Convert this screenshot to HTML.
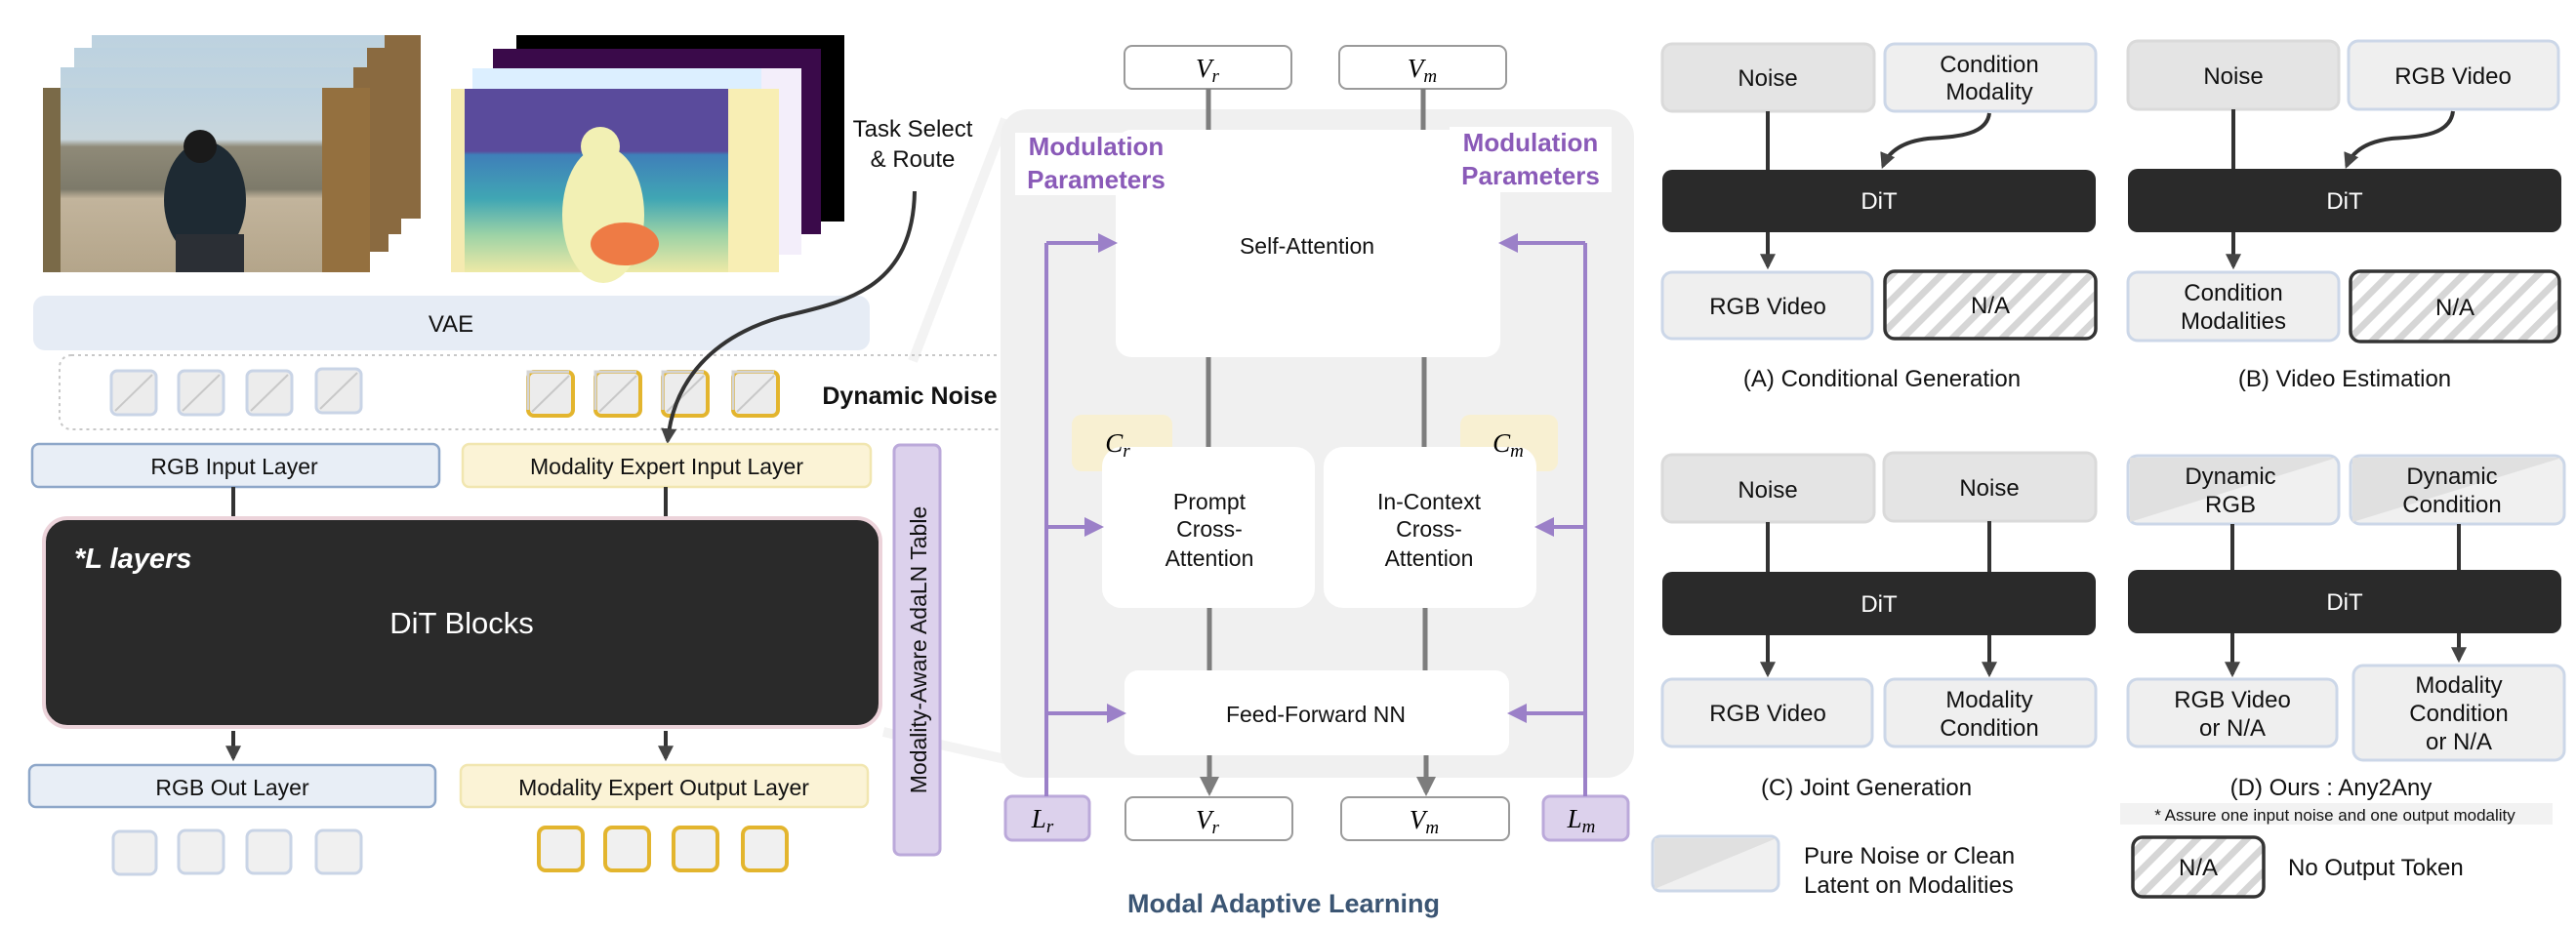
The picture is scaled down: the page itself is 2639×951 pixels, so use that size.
<!DOCTYPE html>
<html><head><meta charset="utf-8"><style>
html,body{margin:0;padding:0;background:#fff;}
svg{display:block;font-family:"Liberation Sans",sans-serif;}
</style></head><body>
<svg width="2639" height="951" viewBox="0 0 2639 951" xmlns="http://www.w3.org/2000/svg">
<defs>
<pattern id="hatch" patternUnits="userSpaceOnUse" width="18" height="18" patternTransform="rotate(45)">
<rect width="18" height="18" fill="#fff"/><rect width="7" height="18" fill="#d6d6d6"/>
</pattern>
<marker id="ah" viewBox="0 0 10 10" refX="8" refY="5" markerWidth="4" markerHeight="4" orient="auto"><path d="M0,0 L10,5 L0,10 z" fill="#444"/></marker>
<marker id="ag" viewBox="0 0 10 10" refX="8" refY="5" markerWidth="4" markerHeight="4" orient="auto"><path d="M0,0 L10,5 L0,10 z" fill="#7d7d7d"/></marker>
<marker id="ap" viewBox="0 0 10 10" refX="8" refY="5" markerWidth="5" markerHeight="5" orient="auto"><path d="M0,0 L10,5 L0,10 z" fill="#9b80c8"/></marker>
<linearGradient id="photo" x1="0" y1="0" x2="0" y2="1">
<stop offset="0" stop-color="#bcd2e0"/><stop offset="0.28" stop-color="#c9d6dc"/><stop offset="0.32" stop-color="#8f8a78"/><stop offset="0.55" stop-color="#7d7a6a"/><stop offset="0.6" stop-color="#c2b49c"/><stop offset="1" stop-color="#b4a58a"/>
</linearGradient>
<linearGradient id="depth" x1="0" y1="0" x2="0" y2="1">
<stop offset="0" stop-color="#5a4b9c"/><stop offset="0.34" stop-color="#5a4b9c"/><stop offset="0.36" stop-color="#3f7fb9"/><stop offset="0.6" stop-color="#40a6b4"/><stop offset="0.8" stop-color="#9ed3a6"/><stop offset="1" stop-color="#eee9a6"/>
</linearGradient>
</defs>

<line x1="935" y1="370" x2="1030" y2="122" stroke="#f3f3f3" stroke-width="10"/>
<line x1="905" y1="750" x2="1030" y2="778" stroke="#f3f3f3" stroke-width="10"/>

<rect x="94" y="36" width="337" height="188" fill="#8a6a40"/>
<rect x="94" y="36" width="300" height="188" fill="url(#photo)"/>
<rect x="76" y="49" width="335" height="191" fill="#8a6a40"/>
<rect x="76" y="49" width="300" height="191" fill="url(#photo)"/>
<rect x="62" y="69" width="336" height="189" fill="#8a6a40"/>
<rect x="62" y="69" width="300" height="189" fill="url(#photo)"/>
<rect x="44" y="90" width="335" height="189" fill="url(#photo)"/>
<rect x="330" y="90" width="49" height="189" fill="#94703f"/>
<rect x="44" y="90" width="18" height="189" fill="#7a6a48"/>
<ellipse cx="210" cy="205" rx="42" ry="60" fill="#1e2a33"/>
<circle cx="205" cy="150" r="17" fill="#1a1a1a"/>
<rect x="180" y="240" width="70" height="39" fill="#2b2f35"/>

<rect x="529" y="36" width="336" height="191" fill="#000"/>
<rect x="505" y="50" width="336" height="190" fill="#3a0a4a"/>
<rect x="484" y="70" width="337" height="191" fill="#dcefff"/>
<rect x="780" y="70" width="41" height="191" fill="#f3eefa"/>
<rect x="462" y="91" width="336" height="188" fill="url(#depth)"/>
<rect x="462" y="91" width="14" height="188" fill="#f5eab0"/>
<rect x="746" y="91" width="52" height="188" fill="#f8eeb4"/>
<ellipse cx="618" cy="220" rx="42" ry="70" fill="#f2f0b4"/>
<circle cx="615" cy="150" r="20" fill="#f2f0b4"/>
<ellipse cx="640" cy="250" rx="35" ry="22" fill="#ee7b45"/>

<text x="935" y="140" font-size="24" text-anchor="middle" fill="#111">Task Select</text>
<text x="935" y="171" font-size="24" text-anchor="middle" fill="#111">&amp; Route</text>

<rect x="34" y="303" width="857" height="56" rx="12" fill="#e6ecf5"/>
<text x="462" y="340" font-size="24" text-anchor="middle" fill="#111">VAE</text>

<rect x="61" y="364" width="986" height="76" rx="12" fill="none" stroke="#c8c8c8" stroke-width="2" stroke-dasharray="3,4"/>
<g stroke="#c9d4e6" stroke-width="3" fill="#ececec">
<rect x="114" y="380" width="46" height="45" rx="6"/><rect x="183" y="380" width="46" height="45" rx="6"/><rect x="253" y="380" width="46" height="45" rx="6"/><rect x="324" y="378" width="46" height="45" rx="6"/>
</g>
<g stroke="#c8c8c8" stroke-width="2"><line x1="118" y1="421" x2="156" y2="384"/><line x1="187" y1="421" x2="225" y2="384"/><line x1="257" y1="421" x2="295" y2="384"/><line x1="328" y1="419" x2="366" y2="382"/></g>
<g stroke="#e3b52e" stroke-width="4" fill="#ececec">
<rect x="541" y="381" width="46" height="45" rx="6"/><rect x="610" y="381" width="46" height="45" rx="6"/><rect x="679" y="381" width="46" height="45" rx="6"/><rect x="751" y="381" width="46" height="45" rx="6"/>
</g>
<g stroke="#d4d4d4" stroke-width="3" fill="none"><path d="M541,420 V381 H583"/><path d="M610,420 V381 H652"/><path d="M679,420 V381 H721"/><path d="M751,420 V381 H793"/></g>
<g stroke="#c8c8c8" stroke-width="2"><line x1="545" y1="422" x2="583" y2="385"/><line x1="614" y1="422" x2="652" y2="385"/><line x1="683" y1="422" x2="721" y2="385"/><line x1="755" y1="422" x2="793" y2="385"/></g>
<text x="932" y="414" font-size="25" font-weight="bold" text-anchor="middle" fill="#111">Dynamic Noise</text>

<path d="M937,196 C935,300 860,310 800,325 C730,345 690,390 684,452" fill="none" stroke="#333" stroke-width="4" marker-end="url(#ah)"/>

<rect x="33" y="455" width="417" height="44" rx="7" fill="#e8eef6" stroke="#8ea7c9" stroke-width="2.5"/>
<text x="240" y="486" font-size="23" text-anchor="middle" fill="#111">RGB Input Layer</text>
<rect x="474" y="455" width="418" height="44" rx="7" fill="#fbf3d6" stroke="#f1e6b0" stroke-width="2.5"/>
<text x="683" y="486" font-size="23" text-anchor="middle" fill="#111">Modality Expert Input Layer</text>
<line x1="239" y1="499" x2="239" y2="531" stroke="#333" stroke-width="4"/>
<line x1="682" y1="499" x2="682" y2="531" stroke="#333" stroke-width="4"/>

<rect x="45" y="531" width="857" height="214" rx="24" fill="#2a2a2a" stroke="#ecd3da" stroke-width="4"/>
<text x="76" y="582" font-size="29" font-weight="bold" font-style="italic" fill="#fff">*L layers</text>
<text x="473" y="649" font-size="31" text-anchor="middle" fill="#fff">DiT Blocks</text>
<line x1="239" y1="749" x2="239" y2="777" stroke="#333" stroke-width="4" marker-end="url(#ah)"/>
<line x1="682" y1="749" x2="682" y2="777" stroke="#333" stroke-width="4" marker-end="url(#ah)"/>

<rect x="30" y="784" width="416" height="43" rx="7" fill="#e8eef6" stroke="#8ea7c9" stroke-width="2.5"/>
<text x="238" y="815" font-size="23" text-anchor="middle" fill="#111">RGB Out Layer</text>
<rect x="472" y="784" width="417" height="43" rx="7" fill="#fbf3d6" stroke="#f1e6b0" stroke-width="2.5"/>
<text x="680" y="815" font-size="23" text-anchor="middle" fill="#111">Modality Expert Output Layer</text>

<g stroke="#c9d4e6" stroke-width="3" fill="#f0f0f0">
<rect x="116" y="852" width="44" height="44" rx="7"/><rect x="183" y="851" width="46" height="44" rx="7"/><rect x="253" y="851" width="45" height="44" rx="7"/><rect x="324" y="851" width="46" height="44" rx="7"/>
</g>
<g stroke="#e3b52e" stroke-width="4" fill="#f0f0f0">
<rect x="552" y="848" width="45" height="44" rx="7"/><rect x="620" y="848" width="45" height="44" rx="7"/><rect x="690" y="848" width="45" height="44" rx="7"/><rect x="761" y="848" width="45" height="44" rx="7"/>
</g>

<rect x="916" y="456" width="47" height="420" rx="6" fill="#dcd1ec" stroke="#bba9da" stroke-width="3"/>
<text transform="translate(949,666) rotate(-90)" font-size="23" text-anchor="middle" fill="#111">Modality-Aware AdaLN Table</text>

<rect x="1025" y="112" width="649" height="685" rx="28" fill="#f0f0f0"/>
<rect x="1152" y="47" width="171" height="44" rx="8" fill="#fff" stroke="#9a9a9a" stroke-width="2"/>
<text x="1237" y="79" font-family="Liberation Serif,serif" font-style="italic" font-size="27" text-anchor="middle">V<tspan font-size="19" dy="5">r</tspan></text>
<rect x="1372" y="47" width="171" height="44" rx="8" fill="#fff" stroke="#9a9a9a" stroke-width="2"/>
<text x="1457" y="79" font-family="Liberation Serif,serif" font-style="italic" font-size="27" text-anchor="middle">V<tspan font-size="19" dy="5">m</tspan></text>
<g stroke="#7d7d7d" stroke-width="5">
<line x1="1238" y1="91" x2="1238" y2="133"/><line x1="1458" y1="91" x2="1458" y2="133"/>
<line x1="1238" y1="366" x2="1238" y2="458"/><line x1="1459" y1="366" x2="1459" y2="458"/>
<line x1="1239" y1="623" x2="1239" y2="687"/><line x1="1460" y1="623" x2="1460" y2="687"/>
</g>
<line x1="1239" y1="774" x2="1239" y2="812" stroke="#7d7d7d" stroke-width="5" marker-end="url(#ag)"/>
<line x1="1461" y1="774" x2="1461" y2="812" stroke="#7d7d7d" stroke-width="5" marker-end="url(#ag)"/>

<rect x="1143" y="133" width="394" height="233" rx="16" fill="#fff"/>
<text x="1339" y="260" font-size="23" text-anchor="middle" fill="#111">Self-Attention</text>
<rect x="1040" y="136" width="166" height="64" fill="#fff"/>
<text x="1123" y="159" font-size="26" font-weight="bold" text-anchor="middle" fill="#8a5ab8">Modulation</text>
<text x="1123" y="193" font-size="26" font-weight="bold" text-anchor="middle" fill="#8a5ab8">Parameters</text>
<rect x="1485" y="130" width="166" height="67" fill="#fff"/>
<text x="1568" y="155" font-size="26" font-weight="bold" text-anchor="middle" fill="#8a5ab8">Modulation</text>
<text x="1568" y="189" font-size="26" font-weight="bold" text-anchor="middle" fill="#8a5ab8">Parameters</text>

<rect x="1098" y="425" width="103" height="58" rx="10" fill="#f8f0d2"/>
<rect x="1496" y="425" width="100" height="58" rx="10" fill="#f8f0d2"/>
<rect x="1129" y="458" width="218" height="165" rx="20" fill="#fff"/>
<rect x="1356" y="458" width="218" height="165" rx="20" fill="#fff"/>
<text x="1145" y="463" font-family="Liberation Serif,serif" font-style="italic" font-size="27" text-anchor="middle">C<tspan font-size="19" dy="5">r</tspan></text>
<text x="1545" y="463" font-family="Liberation Serif,serif" font-style="italic" font-size="27" text-anchor="middle">C<tspan font-size="19" dy="5">m</tspan></text>
<g font-size="23" text-anchor="middle" fill="#111">
<text x="1239" y="522">Prompt</text><text x="1239" y="550">Cross-</text><text x="1239" y="580">Attention</text>
<text x="1464" y="522">In-Context</text><text x="1464" y="550">Cross-</text><text x="1464" y="580">Attention</text>
</g>
<rect x="1152" y="687" width="394" height="87" rx="14" fill="#fff"/>
<text x="1348" y="740" font-size="23" text-anchor="middle" fill="#111">Feed-Forward NN</text>

<rect x="1153" y="817" width="171" height="44" rx="8" fill="#fff" stroke="#9a9a9a" stroke-width="2"/>
<text x="1237" y="849" font-family="Liberation Serif,serif" font-style="italic" font-size="27" text-anchor="middle">V<tspan font-size="19" dy="5">r</tspan></text>
<rect x="1374" y="817" width="172" height="44" rx="8" fill="#fff" stroke="#9a9a9a" stroke-width="2"/>
<text x="1459" y="849" font-family="Liberation Serif,serif" font-style="italic" font-size="27" text-anchor="middle">V<tspan font-size="19" dy="5">m</tspan></text>

<rect x="1030" y="816" width="86" height="45" rx="7" fill="#dcd1ec" stroke="#bba9da" stroke-width="3"/>
<text x="1068" y="848" font-family="Liberation Serif,serif" font-style="italic" font-size="27" text-anchor="middle">L<tspan font-size="19" dy="5">r</tspan></text>
<rect x="1581" y="816" width="87" height="45" rx="7" fill="#dcd1ec" stroke="#bba9da" stroke-width="3"/>
<text x="1620" y="848" font-family="Liberation Serif,serif" font-style="italic" font-size="27" text-anchor="middle">L<tspan font-size="19" dy="5">m</tspan></text>

<g stroke="#9b80c8" stroke-width="4" fill="none">
<path d="M1072,816 V249"/><path d="M1624,816 V249"/>
<line x1="1072" y1="249" x2="1141" y2="249" marker-end="url(#ap)"/>
<line x1="1072" y1="540" x2="1127" y2="540" marker-end="url(#ap)"/>
<line x1="1072" y1="731" x2="1150" y2="731" marker-end="url(#ap)"/>
<line x1="1624" y1="249" x2="1539" y2="249" marker-end="url(#ap)"/>
<line x1="1624" y1="540" x2="1576" y2="540" marker-end="url(#ap)"/>
<line x1="1624" y1="731" x2="1548" y2="731" marker-end="url(#ap)"/>
</g>
<text x="1315" y="935" font-size="27" font-weight="bold" text-anchor="middle" fill="#3b5573">Modal Adaptive Learning</text>

<g font-size="24" text-anchor="middle" fill="#111">
<rect x="1703" y="45" width="217" height="69" rx="10" fill="#e4e4e4" stroke="#dadada" stroke-width="3"/>
<text x="1811" y="88">Noise</text>
<rect x="1931" y="45" width="216" height="69" rx="10" fill="#efefef" stroke="#ccd7e8" stroke-width="3"/>
<text x="2038" y="74">Condition</text><text x="2038" y="102">Modality</text>
<line x1="1811" y1="114" x2="1811" y2="174" stroke="#333" stroke-width="4"/>
<path d="M2038,116 C2035,140 2000,140 1975,142 C1950,145 1935,155 1929,170" fill="none" stroke="#333" stroke-width="4" marker-end="url(#ah)"/>
<rect x="1703" y="174" width="444" height="64" rx="10" fill="#2a2a2a"/>
<text x="1925" y="214" fill="#fff">DiT</text>
<line x1="1811" y1="238" x2="1811" y2="273" stroke="#333" stroke-width="4" marker-end="url(#ah)"/>
<rect x="1703" y="279" width="215" height="68" rx="10" fill="#efefef" stroke="#ccd7e8" stroke-width="3"/>
<text x="1811" y="322">RGB Video</text>
<rect x="1931" y="278" width="216" height="69" rx="10" fill="url(#hatch)" stroke="#333" stroke-width="3.5"/>
<text x="2039" y="321">N/A</text>
<text x="1928" y="396">(A) Conditional Generation</text>

<rect x="2180" y="42" width="216" height="70" rx="10" fill="#e4e4e4" stroke="#dadada" stroke-width="3"/>
<text x="2288" y="86">Noise</text>
<rect x="2406" y="42" width="215" height="70" rx="10" fill="#efefef" stroke="#ccd7e8" stroke-width="3"/>
<text x="2513" y="86">RGB Video</text>
<line x1="2288" y1="112" x2="2288" y2="173" stroke="#333" stroke-width="4"/>
<path d="M2513,114 C2510,140 2475,140 2450,142 C2425,145 2410,155 2404,170" fill="none" stroke="#333" stroke-width="4" marker-end="url(#ah)"/>
<rect x="2180" y="173" width="444" height="65" rx="10" fill="#2a2a2a"/>
<text x="2402" y="214" fill="#fff">DiT</text>
<line x1="2288" y1="238" x2="2288" y2="273" stroke="#333" stroke-width="4" marker-end="url(#ah)"/>
<rect x="2180" y="279" width="216" height="70" rx="10" fill="#efefef" stroke="#ccd7e8" stroke-width="3"/>
<text x="2288" y="308">Condition</text><text x="2288" y="337">Modalities</text>
<rect x="2408" y="278" width="214" height="72" rx="10" fill="url(#hatch)" stroke="#333" stroke-width="3.5"/>
<text x="2515" y="323">N/A</text>
<text x="2402" y="396">(B) Video Estimation</text>

<rect x="1703" y="466" width="217" height="69" rx="10" fill="#e4e4e4" stroke="#dadada" stroke-width="3"/>
<text x="1811" y="510">Noise</text>
<rect x="1930" y="464" width="217" height="70" rx="10" fill="#e4e4e4" stroke="#dadada" stroke-width="3"/>
<text x="2038" y="508">Noise</text>
<line x1="1811" y1="535" x2="1811" y2="586" stroke="#333" stroke-width="4"/>
<line x1="2038" y1="534" x2="2038" y2="586" stroke="#333" stroke-width="4"/>
<rect x="1703" y="586" width="444" height="65" rx="10" fill="#2a2a2a"/>
<text x="1925" y="627" fill="#fff">DiT</text>
<line x1="1811" y1="651" x2="1811" y2="691" stroke="#333" stroke-width="4" marker-end="url(#ah)"/>
<line x1="2038" y1="651" x2="2038" y2="691" stroke="#333" stroke-width="4" marker-end="url(#ah)"/>
<rect x="1703" y="696" width="215" height="69" rx="10" fill="#efefef" stroke="#ccd7e8" stroke-width="3"/>
<text x="1811" y="739">RGB Video</text>
<rect x="1931" y="696" width="216" height="69" rx="10" fill="#efefef" stroke="#ccd7e8" stroke-width="3"/>
<text x="2038" y="725">Modality</text><text x="2038" y="754">Condition</text>
<text x="1912" y="815">(C) Joint Generation</text>

<rect x="2180" y="467" width="216" height="70" rx="10" fill="#f0f0f0" stroke="#ccd7e8" stroke-width="3"/>
<polygon points="2182,535 2394,469 2182,469" fill="#e0e0e0"/>
<text x="2285" y="496">Dynamic</text><text x="2285" y="525">RGB</text>
<rect x="2408" y="467" width="219" height="70" rx="10" fill="#f0f0f0" stroke="#ccd7e8" stroke-width="3"/>
<polygon points="2410,535 2625,469 2410,469" fill="#e0e0e0"/>
<text x="2512" y="496">Dynamic</text><text x="2512" y="525">Condition</text>
<line x1="2287" y1="537" x2="2287" y2="584" stroke="#333" stroke-width="4"/>
<line x1="2519" y1="537" x2="2519" y2="584" stroke="#333" stroke-width="4"/>
<rect x="2180" y="584" width="444" height="65" rx="10" fill="#2a2a2a"/>
<text x="2402" y="625" fill="#fff">DiT</text>
<line x1="2287" y1="649" x2="2287" y2="691" stroke="#333" stroke-width="4" marker-end="url(#ah)"/>
<line x1="2519" y1="649" x2="2519" y2="676" stroke="#333" stroke-width="4" marker-end="url(#ah)"/>
<rect x="2180" y="696" width="214" height="69" rx="10" fill="#efefef" stroke="#ccd7e8" stroke-width="3"/>
<text x="2287" y="725">RGB Video</text><text x="2287" y="754">or N/A</text>
<rect x="2411" y="682" width="216" height="97" rx="10" fill="#efefef" stroke="#ccd7e8" stroke-width="3"/>
<text x="2519" y="710">Modality</text><text x="2519" y="739">Condition</text><text x="2519" y="768">or N/A</text>
<text x="2388" y="815">(D) Ours : Any2Any</text>
<rect x="2172" y="823" width="443" height="22" fill="#f2f2f2"/>
<text x="2392" y="841" font-size="17">* Assure one input noise and one output modality</text>

<rect x="1693" y="857" width="129" height="56" rx="8" fill="#f0f0f0" stroke="#ccd7e8" stroke-width="3"/>
<polygon points="1695,911 1820,859 1695,859" fill="#e0e0e0"/>
<text x="1848" y="885" text-anchor="start">Pure Noise or Clean</text>
<text x="1848" y="915" text-anchor="start">Latent on Modalities</text>
<rect x="2185" y="858" width="134" height="61" rx="10" fill="url(#hatch)" stroke="#333" stroke-width="3.5"/>
<text x="2252" y="897">N/A</text>
<text x="2344" y="897" text-anchor="start">No Output Token</text>
</g>
</svg>
</body></html>
